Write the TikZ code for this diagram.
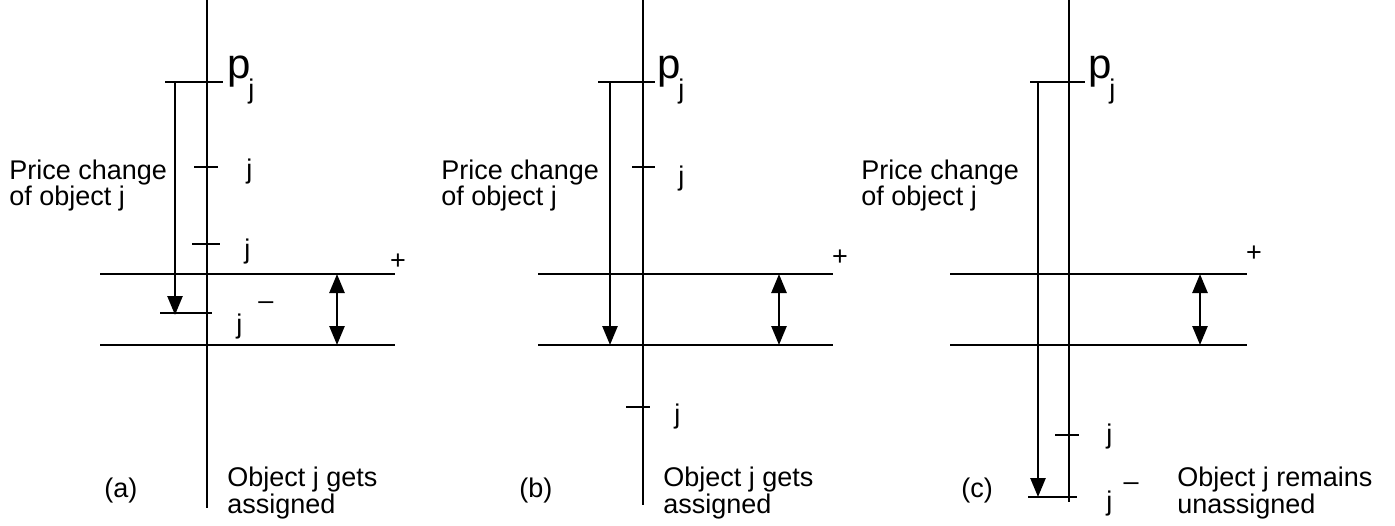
\documentclass[tikz,border=0pt]{standalone}
\usepackage{fontspec}
\setmainfont{Liberation Sans}
\usetikzlibrary{arrows.meta}
\begin{document}
\begin{tikzpicture}[x=1pt,y=-1pt, line width=2.6pt,
  txt/.style={anchor=base west, inner sep=0pt, font=\fontsize{27}{27}\selectfont},
  bigp/.style={anchor=base west, inner sep=0pt, font=\fontsize{42}{42}\selectfont},
  sign/.style={anchor=center, inner sep=0pt, font=\fontsize{27}{27}\selectfont},
  tip/.style={-{Triangle[length=19pt,width=15pt]}},
  dtip/.style={{Triangle[length=19pt,width=15pt]}-{Triangle[length=19pt,width=15pt]}}]
\useasboundingbox (0,0) rectangle (1395,525);

% ---------- panel (a) ----------
\coordinate (aT) at (207,0);   \coordinate (aB) at (207,508);
\coordinate (apL) at (165,82); \coordinate (apR) at (223,82);
\coordinate (aA1) at (175,82); \coordinate (aA2) at (175,315);
\coordinate (a1L) at (194,167); \coordinate (a1R) at (218,167);
\coordinate (a2L) at (192,244); \coordinate (a2R) at (220,244);
\coordinate (a3L) at (160,313); \coordinate (a3R) at (212,313);
\coordinate (ah1L) at (100,274); \coordinate (ah1R) at (395,274);
\coordinate (ah2L) at (100,345); \coordinate (ah2R) at (395,345);
\coordinate (adT) at (337,274); \coordinate (adB) at (337,345);
\draw (aT) -- (aB);
\draw (apL) -- (apR);
\draw[tip] (aA1) -- (aA2);
\draw (a1L) -- (a1R);
\draw (a2L) -- (a2R);
\draw (a3L) -- (a3R);
\draw (ah1L) -- (ah1R);
\draw (ah2L) -- (ah2R);
\draw[dtip] (adT) -- (adB);
\node[bigp] (apl) at (226,78) {p};
\node[txt] (apj) at (247,98) {j};
\node[txt] (aj1) at (245,178) {j};
\node[txt] (aj2) at (243,258) {j};
\node[sign] (aplus) at (398,262) {+};
\node[sign] (aminus) at (266,306) {\textendash};
\node[txt] (aj3) at (235,333) {j};
\node[txt] (apc1) at (8,179) {Price change};
\node[txt] (apc2) at (8,205) {of object j};
\node[txt] (alab) at (103,497) {(a)};
\node[txt] (ao1) at (226,486) {Object j gets};
\node[txt] (ao2) at (226,513) {assigned};

% ---------- panel (b) ----------
\coordinate (bT) at (643,0);   \coordinate (bB) at (643,505);
\coordinate (bpL) at (598,82); \coordinate (bpR) at (655,82);
\coordinate (bA1) at (610,82); \coordinate (bA2) at (610,345);
\coordinate (b1L) at (632,167); \coordinate (b1R) at (655,167);
\coordinate (b2L) at (626,407); \coordinate (b2R) at (650,407);
\coordinate (bh1L) at (538,274); \coordinate (bh1R) at (833,274);
\coordinate (bh2L) at (538,345); \coordinate (bh2R) at (833,345);
\coordinate (bdT) at (779,274); \coordinate (bdB) at (779,345);
\draw (bT) -- (bB);
\draw (bpL) -- (bpR);
\draw[tip] (bA1) -- (bA2);
\draw (b1L) -- (b1R);
\draw (b2L) -- (b2R);
\draw (bh1L) -- (bh1R);
\draw (bh2L) -- (bh2R);
\draw[dtip] (bdT) -- (bdB);
\node[bigp] (bpl) at (656,78) {p};
\node[txt] (bpj) at (677,98) {j};
\node[txt] (bj1) at (677,185) {j};
\node[txt] (bj2) at (673,423) {j};
\node[sign] (bplus) at (840,258) {+};
\node[txt] (bpc1) at (440,179) {Price change};
\node[txt] (bpc2) at (440,205) {of object j};
\node[txt] (blab) at (518,497) {(b)};
\node[txt] (bo1) at (662,486) {Object j gets};
\node[txt] (bo2) at (662,513) {assigned};

% ---------- panel (c) ----------
\coordinate (cT) at (1069,0);   \coordinate (cB) at (1069,502);
\coordinate (cpL) at (1030,82); \coordinate (cpR) at (1085,82);
\coordinate (cA1) at (1038,82); \coordinate (cA2) at (1038,497);
\coordinate (c1L) at (1055,435); \coordinate (c1R) at (1079,435);
\coordinate (c2L) at (1028,497); \coordinate (c2R) at (1077,497);
\coordinate (ch1L) at (950,274); \coordinate (ch1R) at (1247,274);
\coordinate (ch2L) at (950,345); \coordinate (ch2R) at (1247,345);
\coordinate (cdT) at (1200,274); \coordinate (cdB) at (1200,345);
\draw (cT) -- (cB);
\draw (cpL) -- (cpR);
\draw[tip] (cA1) -- (cA2);
\draw (c1L) -- (c1R);
\draw (c2L) -- (c2R);
\draw (ch1L) -- (ch1R);
\draw (ch2L) -- (ch2R);
\draw[dtip] (cdT) -- (cdB);
\node[bigp] (cpl) at (1087,78) {p};
\node[txt] (cpj) at (1108,98) {j};
\node[txt] (cj1) at (1105,443) {j};
\node[txt] (cj2) at (1105,510) {j};
\node[sign] (cminus) at (1131,487) {\textendash};
\node[sign] (cplus) at (1254,254) {+};
\node[txt] (cpc1) at (860,179) {Price change};
\node[txt] (cpc2) at (860,205) {of object j};
\node[txt] (clab) at (960,497) {(c)};
\node[txt] (co1) at (1176,486) {Object j remains};
\node[txt] (co2) at (1176,513) {unassigned};
\end{tikzpicture}
\end{document}
